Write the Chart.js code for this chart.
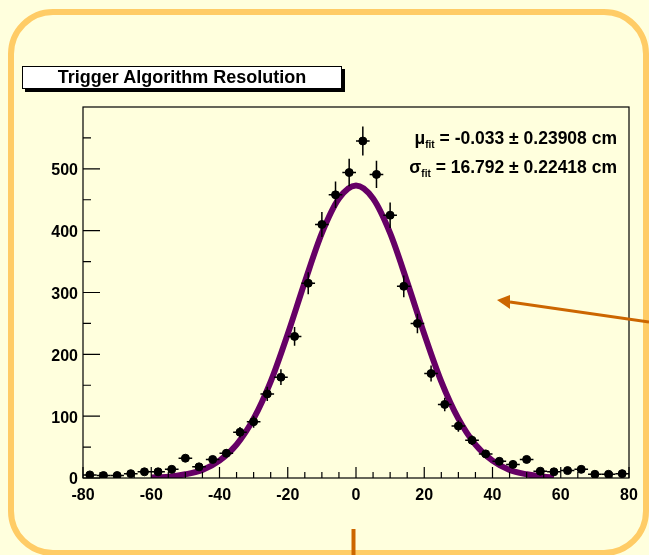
<!DOCTYPE html>
<html>
<head>
<meta charset="utf-8">
<script src="https://cdn.jsdelivr.net/npm/chart.js@4.4.0/dist/chart.umd.min.js"></script>
<style>
  html, body { margin: 0; padding: 0; background: #ffffdd; }
  #wrap { position: relative; width: 649px; height: 555px; overflow: hidden; font-family: "Liberation Sans", Arial, sans-serif; }
  #chart { position: absolute; left: 0; top: 0; }
  #deco { position: absolute; left: 0; top: 0; }
  #title {
    position: absolute; left: 22px; top: 66px; width: 318px; height: 21px;
    background: #fff; border: 1px solid #000; box-shadow: 3px 3px 0 #000;
    font-weight: bold; font-size: 18px; line-height: 21px; text-align: center; color: #000;
  }
  .stat { position: absolute; right: 32px; font-weight: bold; font-size: 17.5px; color: #000; white-space: nowrap; }
  .stat sub { font-size: 10px; vertical-align: -4px; }
</style>
</head>
<body>
<div id="wrap">
  <svg id="deco" width="649" height="555">
    <rect x="11" y="12" width="635" height="541" rx="42" ry="42" fill="none" stroke="#ffcc66" stroke-width="6"/>
  </svg>
  <canvas id="chart" width="649" height="555"></canvas>
  <div id="title">Trigger Algorithm Resolution</div>
  <div class="stat" style="top:128px">μ<sub>fit</sub> = -0.033 ± 0.23908 cm</div>
  <div class="stat" style="top:157px">σ<sub>fit</sub> = 16.792 ± 0.22418 cm</div>
  <svg id="arrows" width="649" height="555" style="position:absolute;left:0;top:0">
    <line x1="649" y1="322" x2="510" y2="302" stroke="#cc6600" stroke-width="3"/>
    <polygon points="497,300 510,295 510,309" fill="#cc6600"/>
    <line x1="353.5" y1="529" x2="353.5" y2="555" stroke="#cc6600" stroke-width="4"/>
  </svg>
</div>
<script>
// Histogram bin centres (cm) and counts
const binCenters = [-78, -74, -70, -66, -62, -58, -54, -50, -46, -42, -38, -34, -30, -26, -22, -18, -14, -10, -6, -2,
                    2, 6, 10, 14, 18, 22, 26, 30, 34, 38, 42, 46, 50, 54, 58, 62, 66, 70, 74, 78];
const counts = [5, 4, 4, 7, 10, 10, 14, 32, 18, 30, 40, 74, 91, 136, 163, 229, 315, 410, 458, 494,
                545, 491, 425, 310, 250, 169, 119, 84, 61, 39, 27, 22, 30, 11, 10, 12, 14, 6, 6, 7];
const binHalfWidth = 2;

// Fitted gaussian curve
const fitX = [-60, -55, -50, -45, -40, -35, -30, -25, -20, -15, -10, -5, 0, 5, 10, 15, 20, 25, 30, 35, 40, 45, 50, 55, 58];
const fitY = [1, 2, 6, 13, 28, 54, 96, 156, 233, 317, 396, 452, 473, 452, 396, 317, 233, 156, 96, 54, 28, 13, 6, 2, 1];

// Axis ticks
const xTicks = { min: -80, max: 80, step: 20, minor: 5 };
const yTicks = { min: 0, max: 600, step: 100, minor: 50, lastLabel: 500 };

const points = binCenters.map((x, i) => ({ x: x, y: counts[i] }));
const curve = fitX.map((x, i) => ({ x: x, y: fitY[i] }));

// Error bars under the markers
const errorBars = {
    id: 'errorBars',
    beforeDatasetDraw(chart, args) {
        if (args.index !== 1) return;
        const ctx = chart.ctx;
        const xs = chart.scales.x, ys = chart.scales.y;
        ctx.save();
        ctx.strokeStyle = '#000';
        ctx.lineWidth = 1.5;
        points.forEach(p => {
            const err = Math.sqrt(p.y);
            const px = xs.getPixelForValue(p.x), py = ys.getPixelForValue(p.y);
            ctx.beginPath();
            ctx.moveTo(xs.getPixelForValue(p.x - binHalfWidth), py);
            ctx.lineTo(xs.getPixelForValue(p.x + binHalfWidth), py);
            ctx.moveTo(px, ys.getPixelForValue(p.y + err));
            ctx.lineTo(px, ys.getPixelForValue(Math.max(0, p.y - err)));
            ctx.stroke();
        });
        ctx.restore();
    }
};

// ROOT style frame with inward ticks
const frame = {
    id: 'frame',
    afterDraw(chart) {
        const ctx = chart.ctx;
        const a = chart.chartArea;
        const xs = chart.scales.x, ys = chart.scales.y;
        ctx.save();
        ctx.strokeStyle = '#000';
        ctx.lineWidth = 1.2;
        ctx.strokeRect(a.left, a.top, a.right - a.left, a.bottom - a.top);
        ctx.beginPath();
        for (let v = xTicks.min; v <= xTicks.max; v += xTicks.minor) {
            const px = xs.getPixelForValue(v);
            const len = (v % xTicks.step === 0) ? 11 : 6;
            ctx.moveTo(px, a.bottom);
            ctx.lineTo(px, a.bottom - len);
        }
        for (let v = yTicks.min; v < yTicks.max; v += yTicks.minor) {
            const py = ys.getPixelForValue(v);
            const len = (v % yTicks.step === 0) ? 17 : 8;
            ctx.moveTo(a.left, py);
            ctx.lineTo(a.left + len, py);
        }
        ctx.stroke();
        ctx.restore();
    }
};

const tickFont = { family: '"Liberation Sans", Arial, sans-serif', size: 16, weight: 'bold' };

new Chart(document.getElementById('chart'), {
    type: 'scatter',
    data: {
        datasets: [{
            data: curve,
            showLine: true,
            borderColor: '#660066',
            borderWidth: 6,
            pointRadius: 0,
            cubicInterpolationMode: 'monotone',
            order: 2
        }, {
            data: points,
            backgroundColor: '#000',
            borderColor: '#000',
            pointRadius: 4,
            order: 1
        }]
    },
    options: {
        responsive: false,
        animation: false,
        devicePixelRatio: 1,
        layout: { padding: { left: 0, top: 107, right: 20, bottom: 47 } },
        plugins: { legend: { display: false }, tooltip: { enabled: false } },
        scales: {
            x: {
                type: 'linear',
                min: xTicks.min,
                max: xTicks.max,
                grid: { display: false, drawTicks: false },
                border: { display: false },
                ticks: { stepSize: xTicks.step, color: '#000', font: tickFont, padding: 8, maxRotation: 0 },
                afterFit(scale) { scale.height = 30; }
            },
            y: {
                type: 'linear',
                min: yTicks.min,
                max: yTicks.max,
                grid: { display: false, drawTicks: false },
                border: { display: false },
                ticks: {
                    stepSize: yTicks.step, color: '#000', font: tickFont, padding: 5, labelOffset: 2,
                    callback: v => v > yTicks.lastLabel ? '' : v
                },
                afterFit(scale) { scale.width = 83; }
            }
        }
    },
    plugins: [errorBars, frame]
});
</script>
</body>
</html>
